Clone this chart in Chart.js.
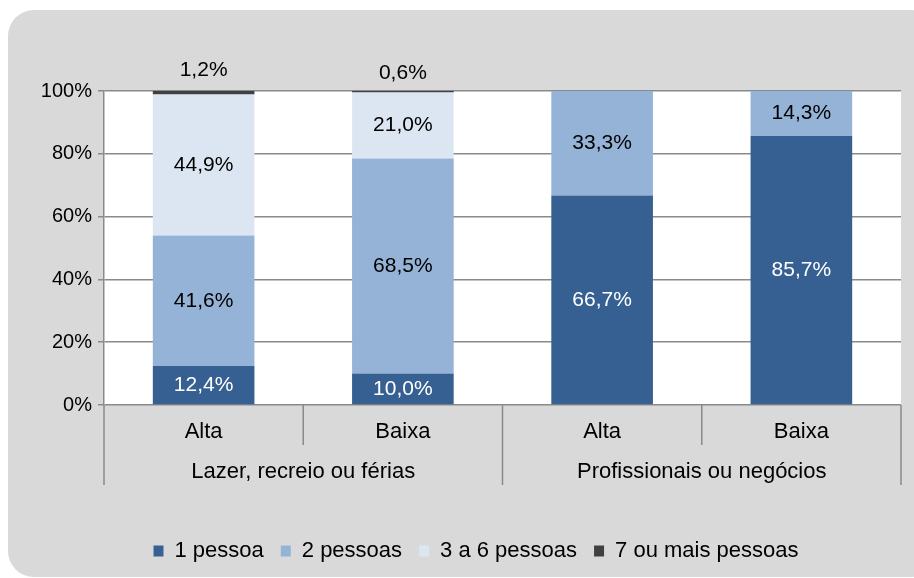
<!DOCTYPE html>
<html>
<head>
<meta charset="utf-8">
<script src="https://cdn.jsdelivr.net/npm/chart.js@4"></script>
<style>
  body { margin: 0; background: #fff; overflow: hidden; }
  #painel { position: absolute; left: 8px; top: 10px; width: 930px; height: 567px; background: #d9d9d9; border-radius: 26px; }
  #wrap { position: absolute; left: 0; top: 0; width: 914px; height: 578px; }
</style>
</head>
<body>
<div id="painel"></div>
<div id="wrap"><canvas id="grafico" width="914" height="578"></canvas></div>
<script>
// categorias (época) e grupos (motivo)
const categorias = ['Alta', 'Baixa', 'Alta', 'Baixa'];
const grupos = ['Lazer, recreio ou férias', 'Profissionais ou negócios'];
const series = ['1 pessoa', '2 pessoas', '3 a 6 pessoas', '7 ou mais pessoas'];
const umaPessoa = [12.4, 10.0, 66.7, 85.7];
const duasPessoas = [41.6, 68.5, 33.3, 14.3];
const tresASeis = [44.9, 21.0, 0, 0];
const seteOuMais = [1.2, 0.6, 0, 0];
const ticksY = [0, 20, 40, 60, 80, 100];
const cores = ['#376092', '#95b3d7', '#dce6f2', '#404040'];

const FONTE = '"Liberation Sans", Arial, sans-serif';
const GRELHA = '#8a8a8a';

function fmt(v) {
    return v.toFixed(1).replace('.', ',') + '%';
}

// fundo branco da área do gráfico
const fundoArea = {
    id: 'fundoArea',
    beforeDraw(chart) {
        const a = chart.chartArea, ctx = chart.ctx;
        ctx.save();
        ctx.fillStyle = '#fff';
        ctx.fillRect(a.left, a.top, a.right - a.left, a.bottom - a.top);
        ctx.restore();
    }
};

// rótulos de dados
const rotulos = {
    id: 'rotulos',
    afterDatasetsDraw(chart) {
        const ctx = chart.ctx;
        ctx.save();
        ctx.font = '21px ' + FONTE;
        ctx.textAlign = 'center';
        ctx.textBaseline = 'middle';
        chart.data.datasets.forEach((ds, i) => {
            chart.getDatasetMeta(i).data.forEach((bar, j) => {
                const v = ds.data[j];
                if (!v) return;
                let y = (bar.y + bar.base) / 2;
                if (i === 3) y = bar.y - 20 + j * 3;
                ctx.fillStyle = i === 0 ? '#fff' : '#000';
                ctx.fillText(fmt(v), bar.x, y);
            });
        });
        ctx.restore();
    }
};

// separadores e rótulos dos grupos no eixo x
const eixoGrupos = {
    id: 'eixoGrupos',
    afterDraw(chart) {
        const x = chart.scales.x, a = chart.chartArea, ctx = chart.ctx;
        const lim = [a.left];
        for (let i = 0; i < categorias.length - 1; i++) {
            lim.push((x.getPixelForValue(i) + x.getPixelForValue(i + 1)) / 2);
        }
        lim.push(a.right);
        ctx.save();
        ctx.strokeStyle = GRELHA;
        ctx.lineWidth = 1.5;
        lim.forEach((px, k) => {
            ctx.beginPath();
            ctx.moveTo(px, a.bottom);
            ctx.lineTo(px, k % 2 === 0 ? a.bottom + 80 : a.bottom + 40);
            ctx.stroke();
        });
        ctx.fillStyle = '#000';
        ctx.font = '22px ' + FONTE;
        ctx.textAlign = 'center';
        ctx.textBaseline = 'middle';
        grupos.forEach((g, k) => {
            ctx.fillText(g, (lim[2 * k] + lim[2 * k + 2]) / 2, a.bottom + 67);
        });
        ctx.restore();
    }
};

new Chart(document.getElementById('grafico'), {
    type: 'bar',
    data: {
        labels: categorias,
        datasets: [
            { label: series[0], data: umaPessoa, backgroundColor: cores[0] },
            { label: series[1], data: duasPessoas, backgroundColor: cores[1] },
            { label: series[2], data: tresASeis, backgroundColor: cores[2] },
            { label: series[3], data: seteOuMais, backgroundColor: cores[3] }
        ]
    },
    options: {
        responsive: false,
        animation: false,
        layout: { padding: { top: 91, right: 0, left: 38, bottom: 6 } },
        datasets: { bar: { categoryPercentage: 1, barPercentage: 0.51, borderWidth: 0 } },
        plugins: {
            legend: {
                position: 'bottom',
                labels: { font: { family: FONTE, size: 22 }, color: '#000', boxWidth: 10, boxHeight: 11, padding: 17 }
            },
            tooltip: { enabled: false }
        },
        scales: {
            x: {
                stacked: true,
                grid: { display: false },
                border: { display: false },
                ticks: { color: '#000', font: { family: FONTE, size: 22 }, padding: 6 },
                afterFit(s) { s.height = 118; }
            },
            y: {
                stacked: true,
                min: 0,
                max: 100,
                afterBuildTicks(s) { s.ticks = ticksY.map(v => ({ value: v })); },
                ticks: { color: '#000', font: { family: FONTE, size: 20 }, padding: 6, callback: v => v + '%' },
                grid: { color: GRELHA, lineWidth: 1.5, tickLength: 6 },
                border: { color: GRELHA, width: 1.5 },
                afterFit(s) { s.width = 66; }
            },
            // eixo vazio só para reservar a margem direita
            margem: {
                type: 'linear',
                position: 'right',
                grid: { display: false },
                border: { display: false },
                ticks: { display: false },
                afterFit(s) { s.width = 13; }
            }
        }
    },
    plugins: [fundoArea, rotulos, eixoGrupos]
});
</script>
</body>
</html>
